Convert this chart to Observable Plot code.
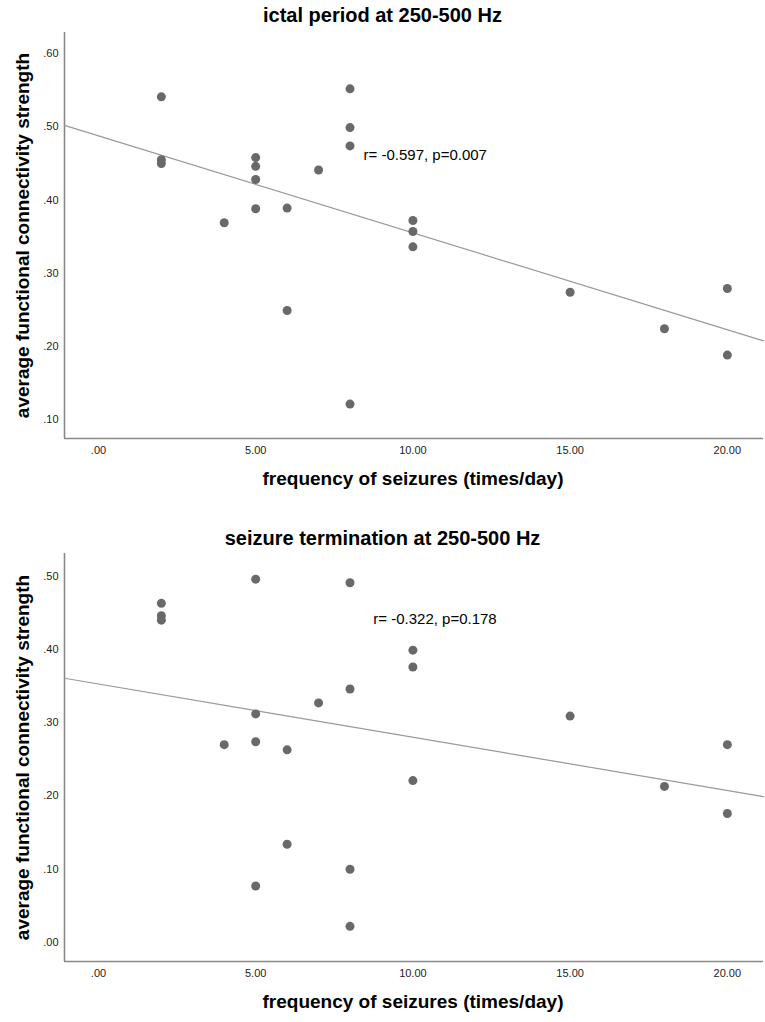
<!DOCTYPE html>
<html>
<head>
<meta charset="utf-8">
<script src="https://cdn.jsdelivr.net/npm/d3@7"></script>
<script src="https://cdn.jsdelivr.net/npm/@observablehq/plot@0.6"></script>
<style>
  html, body { margin: 0; padding: 0; background: #fff; }
  body { width: 765px; height: 1022px; position: relative; font-family: "Liberation Sans", Arial, sans-serif; }
  .title { position: absolute; left: 0; width: 765px; height: 30px; line-height: 30px; text-align: center;
           font-weight: bold; font-size: 20px; color: #000; }
  .panel { position: absolute; left: 0; }
</style>
</head>
<body>
<div class="title" style="top:0px">ictal period at 250-500 Hz</div>
<div class="panel" id="p1" style="top:30px"></div>
<div class="title" style="top:523px">seizure termination at 250-500 Hz</div>
<div class="panel" id="p2" style="top:548px"></div>
<script>
// ---- data ----
const freq = [2, 2, 2, 4, 5, 5, 5, 5, 6, 6, 7, 8, 8, 8, 8, 10, 10, 10, 15, 18, 20, 20];
const ictalStrength = [0.541, 0.455, 0.450, 0.369, 0.458, 0.446, 0.428, 0.388, 0.389, 0.249, 0.441,
                       0.552, 0.499, 0.474, 0.121, 0.372, 0.357, 0.336, 0.274, 0.224, 0.279, 0.188];
const freqTerm = [2, 2, 2, 4, 5, 5, 5, 5, 6, 6, 7, 8, 8, 8, 8, 10, 10, 10, 15, 18, 20, 20];
const terminationStrength = [0.463, 0.446, 0.440, 0.270, 0.496, 0.312, 0.274, 0.077, 0.263, 0.134, 0.327,
                             0.491, 0.346, 0.100, 0.022, 0.399, 0.376, 0.221, 0.309, 0.213, 0.270, 0.176];
const xTicks = [0, 5, 10, 15, 20];
const yTicksTop = [0.1, 0.2, 0.3, 0.4, 0.5, 0.6];
const yTicksBottom = [0, 0.1, 0.2, 0.3, 0.4, 0.5];
const statTop = "r= -0.597, p=0.007";
const statBottom = "r= -0.322, p=0.178";
const xLabel = "frequency of seizures (times/day)";
const yLabel = "average functional connectivity strength";

const fmt = v => d3.format(".2f")(v).replace(/^0\./, ".");

function fit(xs, ys) {
  const mx = d3.mean(xs), my = d3.mean(ys);
  let sxy = 0, sxx = 0;
  xs.forEach((x, i) => { sxy += (x - mx) * (ys[i] - my); sxx += (x - mx) ** 2; });
  const b = sxy / sxx;
  return {a: my - b * mx, b};
}

function panel({xs, ys, yDomain, yTicks, stat, statPos, height, marginTop, marginBottom}) {
  const xDomain = [-1.08, 21.15];
  const pts = xs.map((x, i) => ({x, y: ys[i]}));
  const {a, b} = fit(xs, ys);
  const line = xDomain.map(x => ({x, y: a + b * x}));
  return Plot.plot({
    width: 765,
    height,
    marginLeft: 64,
    marginRight: 2,
    marginTop,
    marginBottom,
    style: {fontFamily: "Liberation Sans, Arial, sans-serif", background: "#fff", overflow: "visible"},
    x: {domain: xDomain, ticks: xTicks, tickFormat: fmt, tickSize: 0, tickPadding: 8, label: null},
    y: {domain: yDomain, ticks: yTicks, tickFormat: fmt, tickSize: 0, tickPadding: 6, label: null},
    marks: [
      Plot.axisX({ticks: xTicks, tickFormat: fmt, tickSize: 0, tickPadding: 8, fontSize: 11, fill: "#222", label: null}),
      Plot.axisY({ticks: yTicks, tickFormat: fmt, tickSize: 0, tickPadding: 6, fontSize: 11, fill: "#222", label: null}),
      Plot.ruleX([xDomain[0]], {stroke: "#888", strokeWidth: 1.6}),
      Plot.ruleY([yDomain[0]], {stroke: "#888", strokeWidth: 1.6}),
      Plot.line(line, {x: "x", y: "y", stroke: "#999", strokeWidth: 1.2}),
      Plot.dot(pts, {x: "x", y: "y", r: 4.5, fill: "#696969", stroke: "none"}),
      Plot.text([stat], {x: statPos[0], y: statPos[1], text: d => d, textAnchor: "start", fontSize: 15, fill: "#000"}),
      Plot.text([xLabel], {frameAnchor: "bottom", dx: -1, dy: 40, text: d => d, textAnchor: "middle", lineAnchor: "middle",
                           fontSize: 19, fontWeight: "bold", fill: "#000"}),
      Plot.text([yLabel], {frameAnchor: "left", dx: -42, rotate: -90, text: d => d, textAnchor: "middle", lineAnchor: "middle",
                           fontSize: 19, fontWeight: "bold", fill: "#000"})
    ]
  });
}

document.getElementById("p1").appendChild(panel({
  xs: freq, ys: ictalStrength, yDomain: [0.074, 0.629], yTicks: yTicksTop,
  stat: statTop, statPos: [8.43, 0.461], height: 470, marginTop: 2, marginBottom: 62
}));
document.getElementById("p2").appendChild(panel({
  xs: freqTerm, ys: terminationStrength, yDomain: [-0.026, 0.531], yTicks: yTicksBottom,
  stat: statBottom, statPos: [8.74, 0.442], height: 474, marginTop: 5, marginBottom: 61
}));
</script>
</body>
</html>
